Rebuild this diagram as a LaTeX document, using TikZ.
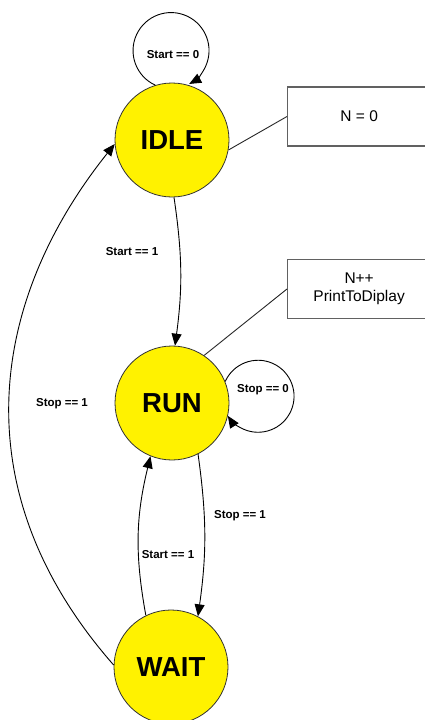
\documentclass[tikz,border=0pt]{standalone}
\usepackage{fontspec}
\setmainfont{Liberation Sans}
\usetikzlibrary{arrows.meta}

\tikzset{
  state/.style={circle, draw=black!80, line width=0.8pt, fill=yellow,
    minimum size=114pt, inner sep=0pt,
    font=\fontsize{27.5}{30}\selectfont\bfseries},
  actionbox/.style={rectangle, draw=black!62, line width=1.3pt, fill=white,
    minimum width=143pt, minimum height=59pt, inner sep=0pt, align=center,
    font=\fontsize{15.5}{18}\selectfont},
  trans/.style={draw=black, line width=0.9pt,
    -{Triangle[length=12pt,width=10pt]}},
  tie/.style={draw=black!85, line width=0.9pt},
  cond/.style={font=\fontsize{11.5}{13}\selectfont\bfseries, inner sep=0pt}
}

\begin{document}
\begin{tikzpicture}[x=1pt, y=-1pt]
  \path[use as bounding box] (0,0) rectangle (425,720);
  \clip (0,0) rectangle (425,720);

  % states
  \node[state] (idle) at (172,140) {IDLE};
  \node[state] (run)  at (172,403) {RUN};
  \node[state] (wait) at (171,667) {WAIT};

  % actions attached to states
  \node[actionbox, anchor=west] (idlebox) at (287,116.5) {N = 0};
  \node[actionbox, anchor=west] (runbox)  at (287,289) {N++\\PrintToDiplay};
  \draw[tie] (idle.-10) -- (idlebox.west);
  \draw[tie] (run.56) -- (runbox.west);

  % self loops (circular arcs; y axis points down)
  \draw[trans] (idle.107) arc[start angle=114.6, end angle=421.5, radius=38];
  \draw[trans] (run.22) arc[start angle=204.2, end angle=507, radius=36];

  % transitions between states
  \draw[trans] (idle.-88) to[bend left=8] (run.87);
  \draw[trans] (run.-63) to[bend left=8] (wait.62);
  \draw[trans] (wait.116) to[bend left=12] (run.-112);
  \draw[trans] (wait.178) .. controls (-40,490) and (-10,300) .. (idle.184);

  % transition conditions
  \node[cond] (c1) at (173,55)  {Start == 0};
  \node[cond] (c2) at (132,252) {Start == 1};
  \node[cond] (c3) at (263,390) {Stop == 0};
  \node[cond] (c4) at (240,516) {Stop == 1};
  \node[cond] (c5) at (168,555) {Start == 1};
  \node[cond] (c6) at (62,404)  {Stop == 1};
\end{tikzpicture}
\end{document}
